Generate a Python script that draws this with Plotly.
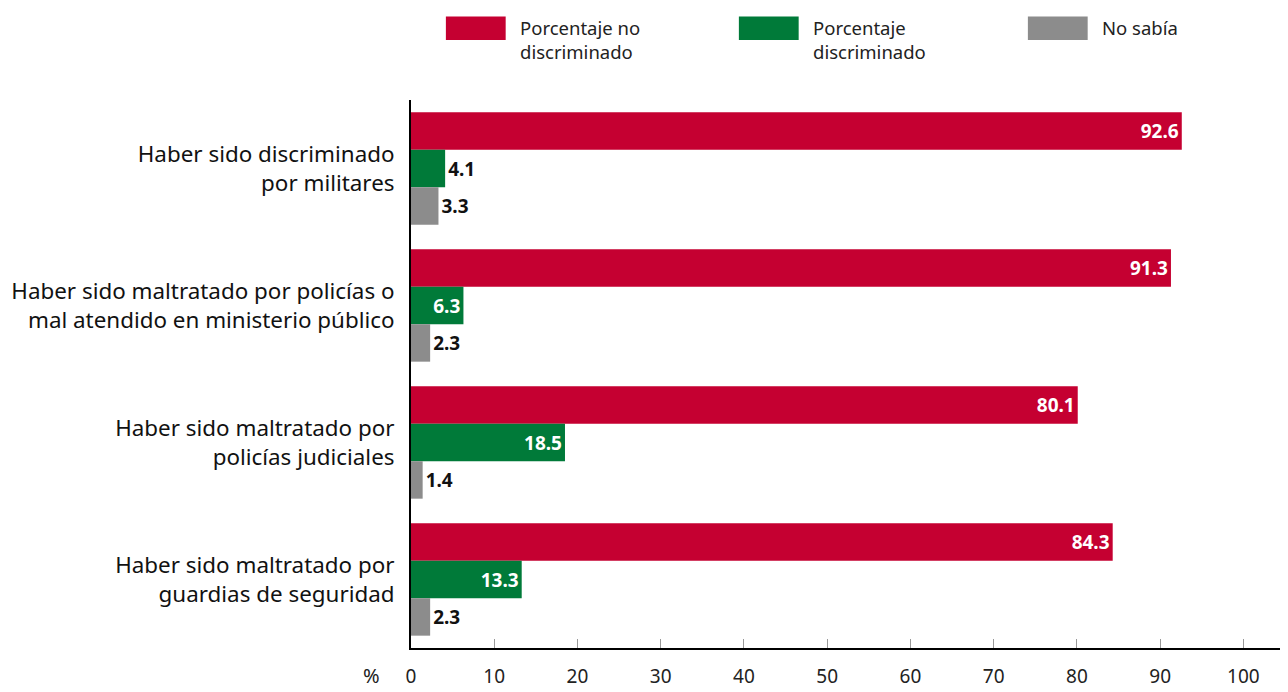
import plotly.graph_objects as go

categorias = [
    "Haber sido discriminado<br>por militares",
    "Haber sido maltratado por policías o<br>mal atendido en ministerio público",
    "Haber sido maltratado por<br>policías judiciales",
    "Haber sido maltratado por<br>guardias de seguridad",
]
no_discriminado = [92.6, 91.3, 80.1, 84.3]
discriminado = [4.1, 6.3, 18.5, 13.3]
no_sabia = [3.3, 2.3, 1.4, 2.3]

series = [
    ("Porcentaje no<br>discriminado", no_discriminado, "#c50031"),
    ("Porcentaje<br>discriminado", discriminado, "#007a39"),
    ("No sabía", no_sabia, "#8c8c8c"),
]

fig = go.Figure()
for name, vals, color in series:
    # big bars get a white label inside, small ones a black label outside
    pos = ["inside" if v >= 6 else "outside" for v in vals]
    fig.add_trace(go.Bar(
        y=categorias, x=vals, name=name, orientation="h",
        marker={"color": color, "line": {"width": 0}},
        text=[f"{v:.1f}" for v in vals],
        textposition=pos,
        insidetextanchor="end",
        insidetextfont={"color": "white", "size": 19, "family": "Noto Sans"},
        outsidetextfont={"color": "#111111", "size": 19, "family": "Noto Sans"},
        texttemplate="<b>%{text}</b>",
        cliponaxis=False,
        showlegend=False,
    ))

# page body has an 8px margin, so the figure is 8px smaller each way
fig.update_layout(
    width=1280, height=684,
    margin={"l": 400, "r": 3, "t": 92, "b": 34},
    barmode="group", bargap=0.18, bargroupgap=0,
    plot_bgcolor="white", paper_bgcolor="white",
    font={"family": "Noto Sans", "size": 19, "color": "#222222"},
)
fig.update_xaxes(
    range=[0, 105], tickvals=list(range(0, 101, 10)),
    showgrid=False, zeroline=False,
    showline=True, linecolor="black", linewidth=2,
    ticks="inside", ticklen=9, tickcolor="#999999", tickwidth=1,
    ticklabelstandoff=10,
    tickfont={"size": 19, "color": "#222222"},
)
fig.update_yaxes(
    autorange="reversed", showgrid=False, zeroline=False,
    showline=True, linecolor="black", linewidth=2,
    ticks="", ticklabelstandoff=10,
    tickfont={"size": 22.4, "color": "#111111"},
)

fig.add_annotation(text="%", xref="paper", yref="paper", x=-0.045, y=0,
                   yshift=-27, showarrow=False,
                   font={"size": 20, "color": "#222222"},
                   xanchor="center", yanchor="middle")

# legend drawn by hand (big colour blocks at the top)
legend_x = [443, 737, 1027]
for (name, vals, color), lx in zip(series, legend_x):
    fig.add_shape(type="rect", xref="paper", yref="paper",
                  x0=(lx - 408) / 877, x1=(lx + 60 - 408) / 877,
                  y0=(658 - 39) / 558, y1=(658 - 15) / 558,
                  fillcolor=color, line={"width": 0})
    fig.add_annotation(text=name, xref="paper", yref="paper",
                       x=(lx + 72 - 408) / 877, y=(658 - 11) / 558,
                       xanchor="left", yanchor="top", align="left",
                       showarrow=False, font={"size": 18.5, "color": "#222222"})

fig.write_html("out.html")
